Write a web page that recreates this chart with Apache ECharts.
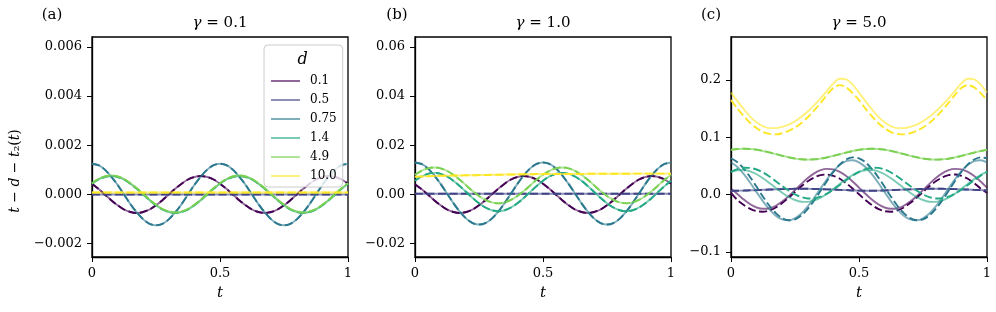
<!DOCTYPE html>
<html><head><meta charset="utf-8">
<script src="https://cdn.jsdelivr.net/npm/echarts@6/dist/echarts.min.js"></script>
<style>html,body{margin:0;padding:0;background:#fff}#c{width:996px;height:312px}</style>
</head><body><div id="c"></div>
<script>
const T = [0,0.025,0.05,0.075,0.1,0.125,0.15,0.175,0.2,0.225,0.25,0.275,0.3,0.325,0.35,0.375,0.4,0.425,0.45,0.475,0.5,0.525,0.55,0.575,0.6,0.625,0.65,0.675,0.7,0.725,0.75,0.775,0.8,0.825,0.85,0.875,0.9,0.925,0.95,0.975,1];
const dValues = ['0.1','0.5','0.75','1.4','4.9','10.0'];
const colors = ['#440154','#414487','#2a788e','#22a884','#7ad151','#fde725'];
const panelTitles = ['0.1','1.0','5.0'];
const panelLabels = ['(a)','(b)','(c)'];
const xTicks = [0,0.5,1];
const yTicksA = [-0.002,0,0.002,0.004,0.006];
const yTicksB = [-0.02,0,0.02,0.04,0.06];
const yTicksC = [-0.1,0,0.1,0.2];

// panel (a) gamma = 0.1 (solid and dashed coincide)
const aD01 = [0.00044,0.00023,0,-0.00023,-0.00044,-0.00061,-0.00071,-0.00075,-0.00071,-0.00061,-0.00044,-0.00023,0,0.00023,0.00044,0.00061,0.00071,0.00075,0.00071,0.00061,0.00044,0.00023,0,-0.00023,-0.00044,-0.00061,-0.00071,-0.00075,-0.00071,-0.00061,-0.00044,-0.00023,0,0.00023,0.00044,0.00061,0.00071,0.00075,0.00071,0.00061,0.00044];
const aD05 = [0,0,0,0,0,0,0,0,0,0,0,0,0,0,0,0,0,0,0,0,0,0,0,0,0,0,0,0,0,0,0,0,0,0,0,0,0,0,0,0,0];
const aD075 = [0.00125,0.00119,0.00101,0.00073,0.00039,0,-0.00039,-0.00073,-0.00101,-0.00119,-0.00125,-0.00119,-0.00101,-0.00073,-0.00039,0,0.00039,0.00073,0.00101,0.00119,0.00125,0.00119,0.00101,0.00073,0.00039,0,-0.00039,-0.00073,-0.00101,-0.00119,-0.00125,-0.00119,-0.00101,-0.00073,-0.00039,0,0.00039,0.00073,0.00101,0.00119,0.00125];
const aD14 = [0.00044,0.00061,0.00071,0.00075,0.00071,0.00061,0.00044,0.00023,0,-0.00023,-0.00044,-0.00061,-0.00071,-0.00075,-0.00071,-0.00061,-0.00044,-0.00023,0,0.00023,0.00044,0.00061,0.00071,0.00075,0.00071,0.00061,0.00044,0.00023,0,-0.00023,-0.00044,-0.00061,-0.00071,-0.00075,-0.00071,-0.00061,-0.00044,-0.00023,0,0.00023,0.00044];
const aD49 = [0.00046,0.00063,0.00073,0.00077,0.00073,0.00063,0.00046,0.00025,0.00002,-0.00021,-0.00042,-0.00059,-0.00069,-0.00073,-0.00069,-0.00059,-0.00042,-0.00021,0.00002,0.00025,0.00046,0.00063,0.00073,0.00077,0.00073,0.00063,0.00046,0.00025,0.00002,-0.00021,-0.00042,-0.00059,-0.00069,-0.00073,-0.00069,-0.00059,-0.00042,-0.00021,0.00002,0.00025,0.00046];
const aD10 = [0.00008,0.00008,0.00008,0.00008,0.00008,0.00008,0.00008,0.00008,0.00008,0.00008,0.00008,0.00008,0.00008,0.00008,0.00008,0.00008,0.00008,0.00008,0.00008,0.00008,0.00008,0.00008,0.00008,0.00008,0.00008,0.00008,0.00008,0.00008,0.00008,0.00008,0.00008,0.00008,0.00008,0.00008,0.00008,0.00008,0.00008,0.00008,0.00008,0.00008,0.00008];

// panel (b) gamma = 1.0
const bD01 = [0.0042,0.0022,0,-0.0023,-0.0044,-0.0061,-0.0071,-0.0075,-0.0071,-0.0061,-0.0044,-0.0023,0,0.0023,0.0044,0.0061,0.0071,0.0075,0.0071,0.0061,0.0044,0.0023,0,-0.0023,-0.0044,-0.0061,-0.0071,-0.0075,-0.0071,-0.0061,-0.0044,-0.0023,0,0.0023,0.0044,0.0061,0.0071,0.0075,0.0071,0.0061,0.0044];
const bD05 = [0.0003,0.0003,0.0003,0.0003,0.0003,0.0003,0.0003,0.0003,0.0003,0.0003,0.0003,0.0003,0.0003,0.0003,0.0003,0.0003,0.0003,0.0003,0.0003,0.0003,0.0003,0.0003,0.0003,0.0003,0.0003,0.0003,0.0003,0.0003,0.0003,0.0003,0.0003,0.0003,0.0003,0.0003,0.0003,0.0003,0.0003,0.0003,0.0003,0.0003,0.0003];
const bD075 = [0.0130,0.0124,0.0106,0.0078,0.0043,0.0004,-0.0035,-0.0070,-0.0098,-0.0116,-0.0122,-0.0116,-0.0098,-0.0070,-0.0035,0.0004,0.0043,0.0078,0.0106,0.0124,0.0130,0.0124,0.0106,0.0078,0.0043,0.0004,-0.0035,-0.0070,-0.0098,-0.0116,-0.0122,-0.0116,-0.0098,-0.0070,-0.0035,0.0004,0.0043,0.0078,0.0106,0.0124,0.0130];
const bD14 = [0.0056,0.0073,0.0084,0.0088,0.0084,0.0073,0.0056,0.0034,0.0010,-0.0014,-0.0036,-0.0053,-0.0064,-0.0068,-0.0064,-0.0053,-0.0036,-0.0014,0.0010,0.0034,0.0056,0.0073,0.0084,0.0088,0.0084,0.0073,0.0056,0.0034,0.0010,-0.0014,-0.0036,-0.0053,-0.0064,-0.0068,-0.0064,-0.0053,-0.0036,-0.0014,0.0010,0.0034,0.0056];
const bD49 = [0.0080,0.0096,0.0106,0.0110,0.0106,0.0096,0.0080,0.0060,0.0037,0.0014,-0.0006,-0.0022,-0.0032,-0.0036,-0.0032,-0.0022,-0.0006,0.0014,0.0037,0.0060,0.0080,0.0096,0.0106,0.0110,0.0106,0.0096,0.0080,0.0060,0.0037,0.0014,-0.0006,-0.0022,-0.0032,-0.0036,-0.0032,-0.0022,-0.0006,0.0014,0.0037,0.0060,0.0080];
const bD10 = [0.0072,0.0073,0.0074,0.0075,0.0076,0.0076,0.0077,0.0077,0.0078,0.0078,0.0079,0.0079,0.0080,0.0080,0.0081,0.0081,0.0082,0.0082,0.0082,0.0083,0.0083,0.0083,0.0083,0.0083,0.0083,0.0083,0.0083,0.0084,0.0084,0.0084,0.0084,0.0084,0.0084,0.0084,0.0085,0.0085,0.0085,0.0085,0.0085,0.0085,0.0085];

// panel (c) gamma = 5.0 : solid (s) and dashed (d)
const cD01s = [0.0100,0.0010,-0.0088,-0.0170,-0.0226,-0.0249,-0.0239,-0.0195,-0.0123,-0.0029,0.0078,0.0187,0.0288,0.0370,0.0426,0.0449,0.0439,0.0395,0.0323,0.0229,0.0122,0.0013,-0.0088,-0.0170,-0.0226,-0.0249,-0.0239,-0.0195,-0.0123,-0.0029,0.0078,0.0187,0.0288,0.0370,0.0426,0.0449,0.0439,0.0395,0.0323,0.0229,0.0122];
const cD01d = [0.0030,-0.0095,-0.0182,-0.0249,-0.0290,-0.0299,-0.0277,-0.0226,-0.0149,-0.0056,0.0045,0.0145,0.0232,0.0299,0.0340,0.0349,0.0327,0.0276,0.0199,0.0106,0.0005,-0.0095,-0.0182,-0.0249,-0.0290,-0.0299,-0.0277,-0.0226,-0.0149,-0.0056,0.0045,0.0145,0.0232,0.0299,0.0340,0.0349,0.0327,0.0276,0.0199,0.0106,0.0030];
const cD05s = [0.0065,0.0067,0.0070,0.0074,0.0078,0.0083,0.0087,0.0091,0.0095,0.0098,0.0100,0.0101,0.0100,0.0098,0.0095,0.0091,0.0087,0.0082,0.0077,0.0072,0.0068,0.0066,0.0066,0.0068,0.0072,0.0077,0.0082,0.0087,0.0091,0.0095,0.0098,0.0100,0.0101,0.0100,0.0098,0.0095,0.0091,0.0087,0.0082,0.0077,0.0072];
const cD05d = [0.0065,0.0067,0.0070,0.0074,0.0078,0.0083,0.0087,0.0091,0.0095,0.0098,0.0100,0.0101,0.0100,0.0098,0.0095,0.0091,0.0087,0.0082,0.0077,0.0072,0.0068,0.0066,0.0066,0.0068,0.0072,0.0077,0.0082,0.0087,0.0091,0.0095,0.0098,0.0100,0.0101,0.0100,0.0098,0.0095,0.0091,0.0087,0.0082,0.0077,0.0072];
const cD075s = [0.0563,0.0480,0.0356,0.0206,0.0042,-0.0118,-0.0259,-0.0368,-0.0434,-0.0449,-0.0413,-0.0330,-0.0206,-0.0056,0.0108,0.0268,0.0409,0.0518,0.0584,0.0599,0.0563,0.0480,0.0356,0.0206,0.0042,-0.0118,-0.0259,-0.0368,-0.0434,-0.0449,-0.0413,-0.0330,-0.0206,-0.0056,0.0108,0.0268,0.0409,0.0518,0.0584,0.0599,0.0563];
const cD075d = [0.0633,0.0564,0.0450,0.0302,0.0135,-0.0037,-0.0195,-0.0324,-0.0412,-0.0449,-0.0433,-0.0364,-0.0250,-0.0102,0.0065,0.0237,0.0395,0.0524,0.0612,0.0649,0.0633,0.0564,0.0450,0.0302,0.0135,-0.0037,-0.0195,-0.0324,-0.0412,-0.0449,-0.0433,-0.0364,-0.0250,-0.0102,0.0065,0.0237,0.0395,0.0524,0.0612,0.0649,0.0633];
const cD14s = [0.0395,0.0425,0.0428,0.0403,0.0354,0.0285,0.0202,0.0115,0.0031,-0.0042,-0.0095,-0.0125,-0.0128,-0.0103,-0.0054,0.0015,0.0098,0.0185,0.0269,0.0342,0.0395,0.0425,0.0428,0.0403,0.0354,0.0285,0.0202,0.0115,0.0031,-0.0042,-0.0095,-0.0125,-0.0128,-0.0103,-0.0054,0.0015,0.0098,0.0185,0.0269,0.0342,0.0395];
const cD14d = [0.0397,0.0444,0.0468,0.0465,0.0437,0.0385,0.0315,0.0234,0.0150,0.0070,0.0003,-0.0044,-0.0068,-0.0065,-0.0037,0.0015,0.0085,0.0166,0.0250,0.0330,0.0397,0.0444,0.0468,0.0465,0.0437,0.0385,0.0315,0.0234,0.0150,0.0070,0.0003,-0.0044,-0.0068,-0.0065,-0.0037,0.0015,0.0085,0.0166,0.0250,0.0330,0.0397];
const cD49s = [0.0782,0.0795,0.0800,0.0795,0.0782,0.0761,0.0734,0.0705,0.0676,0.0649,0.0628,0.0615,0.0610,0.0615,0.0628,0.0649,0.0676,0.0705,0.0734,0.0761,0.0782,0.0795,0.0800,0.0795,0.0782,0.0761,0.0734,0.0705,0.0676,0.0649,0.0628,0.0615,0.0610,0.0615,0.0628,0.0649,0.0676,0.0705,0.0734,0.0761,0.0782];
const cD49d = [0.0780,0.0794,0.0800,0.0796,0.0784,0.0763,0.0736,0.0707,0.0678,0.0651,0.0629,0.0615,0.0610,0.0614,0.0626,0.0647,0.0674,0.0703,0.0732,0.0759,0.0780,0.0794,0.0800,0.0796,0.0784,0.0763,0.0736,0.0707,0.0678,0.0651,0.0629,0.0615,0.0610,0.0614,0.0626,0.0647,0.0674,0.0703,0.0732,0.0759,0.0780];
const cD10s = [0.178,0.163,0.149,0.136,0.126,0.119,0.116,0.116,0.118,0.122,0.128,0.136,0.145,0.156,0.168,0.181,0.194,0.202,0.201,0.192,0.178,0.163,0.149,0.136,0.126,0.119,0.116,0.116,0.118,0.122,0.128,0.136,0.145,0.156,0.168,0.181,0.194,0.202,0.201,0.192,0.178];
const cD10d = [0.165,0.150,0.137,0.125,0.116,0.109,0.106,0.105,0.107,0.111,0.117,0.125,0.135,0.147,0.160,0.174,0.186,0.191,0.187,0.177,0.165,0.150,0.137,0.125,0.116,0.109,0.106,0.105,0.107,0.111,0.117,0.125,0.135,0.147,0.160,0.174,0.186,0.191,0.187,0.177,0.165];

const panels = [
  {solid:[aD01,aD05,aD075,aD14,aD49,aD10], dashed:[aD01,aD05,aD075,aD14,aD49,aD10], min:-0.00254, max:0.0064, ticks:yTicksA, dec:3},
  {solid:[bD01,bD05,bD075,bD14,bD49,bD10], dashed:[bD01,bD05,bD075,bD14,bD49,bD10], min:-0.0254, max:0.064, ticks:yTicksB, dec:2},
  {solid:[cD01s,cD05s,cD075s,cD14s,cD49s,cD10s], dashed:[cD01d,cD05d,cD075d,cD14d,cD49d,cD10d], min:-0.109, max:0.275, ticks:yTicksC, dec:1}
];
const gridLefts = [92,415,731];
const gridW = 256, gridTop = 37, gridH = 220;
const FONT = '"DejaVu Serif", serif';

const grids = [], xAxes = [], yAxes = [], series = [], graphics = [];
panels.forEach((p, gi) => {
  grids.push({left: gridLefts[gi], top: gridTop, width: gridW, height: gridH, show: true, borderColor: '#000', borderWidth: 1.3, backgroundColor: 'transparent', outerBoundsMode: 'none', containLabel: false});
  xAxes.push({type: 'value', gridIndex: gi, min: 0, max: 1, interval: 0.5,
    axisLine: {show: true, onZero: false, lineStyle: {color: '#000', width: 1.3}},
    axisTick: {show: true, inside: false, length: 5, lineStyle: {color: '#000', width: 1}, customValues: xTicks},
    axisLabel: {show: true, margin: 10, color: '#000', fontFamily: FONT, fontSize: 13, customValues: xTicks,
      formatter: v => (v === 0 ? '0' : v === 1 ? '1' : String(v))},
    splitLine: {show: false},
    name: 't', nameLocation: 'middle', nameGap: 29,
    nameTextStyle: {color: '#000', fontFamily: FONT, fontSize: 15, fontStyle: 'italic'}});
  yAxes.push({type: 'value', gridIndex: gi, min: p.min, max: p.max,
    axisLine: {show: true, onZero: false, lineStyle: {color: '#000', width: 1.3}},
    axisTick: {show: true, inside: false, length: 5, lineStyle: {color: '#000', width: 1}, customValues: p.ticks},
    axisLabel: {show: true, margin: 10, color: '#000', fontFamily: FONT, fontSize: 13, customValues: p.ticks,
      formatter: v => { const s = (Math.abs(v) < 1e-12 ? 0 : v).toFixed(p.dec); return s.replace('-', '\u2212'); }},
    splitLine: {show: false}});
  dValues.forEach((d, k) => {
    const base = {type: 'line', xAxisIndex: gi, yAxisIndex: gi, symbol: 'none', showSymbol: false, smooth: 0.3,
      silent: true, animation: false, clip: true, emphasis: {disabled: true}};
    series.push(Object.assign({}, base, {name: d, data: T.map((t, i) => [t, p.solid[k][i]]),
      lineStyle: {color: colors[k], width: 1.9, opacity: 0.6, type: 'solid'}, itemStyle: {color: colors[k], opacity: 0.6}, z: 2 + k * 0.01}));
    series.push(Object.assign({}, base, {name: d + ' approx', data: T.map((t, i) => [t, p.dashed[k][i]]),
      lineStyle: {color: colors[k], width: 1.9, opacity: 1, type: [8, 3.5]}, itemStyle: {color: colors[k]}, z: 2 + k * 0.01 + 0.005}));
  });
  const cx = gridLefts[gi] + gridW / 2;
  graphics.push({type: 'text', x: cx, y: 23, style: {text: '{i|\u03b3} = ' + panelTitles[gi], fill: '#000', font: '15px "DejaVu Serif"', align: 'center', verticalAlign: 'middle',
    rich: {i: {fontStyle: 'italic', fontFamily: FONT, fontSize: 15, fill: '#000'}}}});
});
graphics.push({type: 'text', x: 52, y: 15, style: {text: panelLabels[0], fill: '#000', font: '15px "DejaVu Serif"', align: 'center', verticalAlign: 'middle'}});
graphics.push({type: 'text', x: 397, y: 15, style: {text: panelLabels[1], fill: '#000', font: '15px "DejaVu Serif"', align: 'center', verticalAlign: 'middle'}});
graphics.push({type: 'text', x: 711, y: 15, style: {text: panelLabels[2], fill: '#000', font: '15px "DejaVu Serif"', align: 'center', verticalAlign: 'middle'}});
graphics.push({type: 'text', x: 15, y: 171, rotation: Math.PI / 2, style: {
  text: '{i|t} \u2212 {i|d} \u2212 {i|t}\u2082({i|t})', fill: '#000', font: '14px "DejaVu Serif"', align: 'center', verticalAlign: 'middle',
  rich: {i: {fontStyle: 'italic', fontFamily: FONT, fontSize: 14, fill: '#000'}}}});
graphics.push({type: 'text', x: 302.5, y: 60, z: 100, style: {text: 'd', fill: '#000', font: 'italic 16px "DejaVu Serif"', align: 'center', verticalAlign: 'middle'}});

const option = {
  backgroundColor: '#fff',
  animation: false,
  grid: grids, xAxis: xAxes, yAxis: yAxes, series: series,
  legend: {data: dValues, orient: 'vertical', left: 264, top: 45, padding: [30, 6, 5, 6], itemGap: 7, itemWidth: 29, itemHeight: 13,
    backgroundColor: 'rgba(255,255,255,0.8)', borderColor: '#cccccc', borderWidth: 1, borderRadius: 4,
    selectedMode: false, itemStyle: {opacity: 0},
    textStyle: {color: '#000', fontFamily: FONT, fontSize: 12, padding: [0, 0, 0, 5]}},
  graphic: graphics
};
const chart = echarts.init(document.getElementById('c'), null, {renderer: 'canvas'});
chart.setOption(option);
</script></body></html>
